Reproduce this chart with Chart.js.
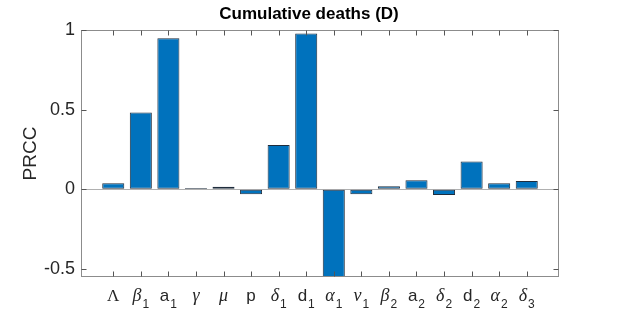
<!DOCTYPE html>
<html>
<head>
<meta charset="utf-8">
<script src="https://cdn.jsdelivr.net/npm/chart.js@4.4.1/dist/chart.umd.min.js"></script>
<style>
  html, body { margin: 0; padding: 0; background: #fff; }
  canvas { display: block; }
</style>
</head>
<body>
<canvas id="prccChart" width="618" height="315"></canvas>
<script>
// parameter names, "_" marks the subscript
const params = ['Λ', 'β_1', 'a_1', 'γ', 'μ', 'p', 'δ_1', 'd_1', 'α_1', 'ν_1', 'β_2', 'a_2', 'δ_2', 'd_2', 'α_2', 'δ_3'];
const prcc = [0.038, 0.482, 0.948, 0.008, 0.017, -0.031, 0.279, 0.978, -0.72, -0.03, 0.02, 0.057, -0.035, 0.175, 0.038, 0.052];
const yTicks = [-0.5, 0, 0.5, 1];

const axisColor = '#8c8c8c';

// matlab style box with inward ticks on all four sides
const axesBox = {
  id: 'axesBox',
  afterDatasetsDraw(chart) {
    const {ctx, chartArea: a, scales: {x, y}} = chart;
    const L = Math.round(a.left) + 0.5, R = Math.round(a.right) - 0.5;
    const T = Math.round(a.top) + 0.5, B = Math.round(a.bottom) - 0.5;
    ctx.save();
    ctx.strokeStyle = axisColor;
    ctx.lineWidth = 1;
    ctx.strokeRect(L, T, R - L, B - T);
    ctx.strokeStyle = '#555';
    ctx.beginPath();
    params.forEach((p, i) => {
      const px = Math.round(x.getPixelForValue(i + 1)) + 0.5;
      ctx.moveTo(px, B); ctx.lineTo(px, B - 5);
      ctx.moveTo(px, T); ctx.lineTo(px, T + 5);
    });
    yTicks.forEach(v => {
      const py = Math.round(y.getPixelForValue(v)) + 0.5;
      ctx.moveTo(L, py); ctx.lineTo(L + 5, py);
      ctx.moveTo(R, py); ctx.lineTo(R - 5, py);
    });
    ctx.stroke();
    ctx.restore();
  },
  afterDraw(chart) {
    const {ctx, chartArea: a, scales: {x}} = chart;
    ctx.save();
    ctx.fillStyle = '#262626';
    ctx.textBaseline = 'alphabetic';
    ctx.textAlign = 'left';
    params.forEach((p, i) => {
      const [base, sub] = p.split('_');
      let baseFont;
      if (/[a-z]/i.test(base)) baseFont = '17px "Liberation Sans"';
      else if (base === 'Λ') baseFont = '17px "Liberation Serif"';
      else baseFont = 'italic 18px "Liberation Serif"';
      const subFont = '12px "Liberation Sans"';
      ctx.font = baseFont;
      const bw = ctx.measureText(base).width;
      ctx.font = subFont;
      const sw = sub ? ctx.measureText(sub).width + 1 : 0;
      const cx = x.getPixelForValue(i + 1);
      const start = cx - (bw + sw) / 2;
      ctx.font = baseFont;
      ctx.fillText(base, start, a.bottom + 24);
      if (sub) {
        ctx.font = subFont;
        ctx.fillText(sub, start + bw + 1, a.bottom + 31);
      }
    });
    ctx.restore();
  }
};

new Chart(document.getElementById('prccChart'), {
  type: 'bar',
  data: {
    datasets: [{
      data: prcc.map((v, i) => ({x: i + 1, y: v})),
      backgroundColor: '#0072BD',
      borderColor: '#1f2d3d',
      borderWidth: 1,
      borderSkipped: false,
      barPercentage: 1,
      categoryPercentage: 0.8
    }]
  },
  options: {
    responsive: false,
    animation: false,
    layout: { padding: 0 },
    plugins: {
      legend: { display: false },
      tooltip: { enabled: false },
      title: {
        display: true,
        text: 'Cumulative deaths (D)',
        color: '#000',
        font: { family: 'Liberation Sans', size: 17, weight: 'bold' },
        padding: { top: 4, bottom: 5.6 }
      }
    },
    scales: {
      x: {
        type: 'linear',
        offset: false,
        min: -0.17,
        max: 17.17,
        grid: { display: false },
        border: { display: false },
        ticks: { display: false },
        afterFit: s => { s.height = 38; }
      },
      y: {
        min: -0.55,
        max: 1,
        afterBuildTicks: s => { s.ticks = yTicks.map(v => ({value: v})); },
        grid: {
          drawTicks: false,
          color: c => c.tick && c.tick.value === 0 ? '#b0b0b0' : 'rgba(0,0,0,0)'
        },
        border: { display: false },
        ticks: {
          padding: 6,
          color: '#262626',
          font: { family: 'Liberation Sans', size: 18 },
          callback: v => String(v)
        },
        title: {
          display: true,
          text: 'PRCC',
          color: '#262626',
          font: { family: 'Liberation Sans', size: 19 },
          padding: { top: 19, bottom: 0 }
        },
        afterFit: s => { s.width = 81; }
      },
      // empty right margin so the title centres on the whole figure
      yRight: {
        position: 'right',
        grid: { display: false },
        border: { display: false },
        ticks: { display: false },
        afterFit: s => { s.width = 59; }
      }
    }
  },
  plugins: [axesBox]
});
</script>
</body>
</html>
